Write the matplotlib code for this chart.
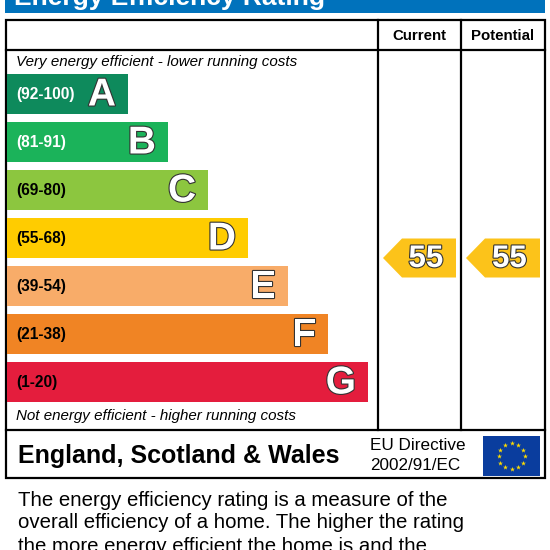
import numpy as np
import matplotlib
matplotlib.use("Agg")
import matplotlib.pyplot as plt
from matplotlib.patches import Rectangle, Polygon
import matplotlib.patheffects as pe

# ---- data ----
bands = ['A', 'B', 'C', 'D', 'E', 'F', 'G']
range_labels = ['(92-100)', '(81-91)', '(69-80)', '(55-68)', '(39-54)', '(21-38)', '(1-20)']
range_lo = [92, 81, 69, 55, 39, 21, 1]
range_hi = [100, 91, 80, 68, 54, 38, 20]
band_colors = ['#0e8a5c', '#1bb35a', '#8cc63f', '#ffcc00', '#f8ac69', '#f08424', '#e41d3d']
label_colors = ['white', 'white', 'black', 'black', 'black', 'black', 'black']
columns = ['Current', 'Potential']
ratings = [55, 55]
title = 'Energy Efficiency Rating'
top_note = 'Very energy efficient - lower running costs'
bottom_note = 'Not energy efficient - higher running costs'
region = 'England, Scotland & Wales'
directive = ['EU Directive', '2002/91/EC']
paragraph = ['The energy efficiency rating is a measure of the',
             'overall efficiency of a home. The higher the rating',
             'the more energy efficient the home is and the']

FONT = 'Liberation Sans'
plt.rcParams['font.family'] = [FONT, 'DejaVu Sans']

fig = plt.figure(figsize=(5.5, 5.5), dpi=100)
ax = fig.add_axes([0, 0, 1, 1])
ax.set_xlim(0, 550)
ax.set_ylim(550, 0)
ax.axis('off')

# title bar
ax.add_patch(Rectangle((5, -5), 540, 18, facecolor='#0072bc', edgecolor='none'))
ax.text(14, 5, title, color='white', fontsize=19, fontweight='bold', va='baseline', ha='left')

# outer box and grid lines
lw = 1.6
ax.add_patch(Rectangle((6, 20), 539, 458, facecolor='none', edgecolor='black', lw=lw))
ax.plot([6, 545], [50, 50], color='black', lw=lw)
ax.plot([6, 545], [430, 430], color='black', lw=lw)
col_x = [378, 461, 545]
for x in col_x[:2]:
    ax.plot([x, x], [20, 430], color='black', lw=lw)
for i, c in enumerate(columns):
    ax.text((col_x[i] + col_x[i + 1]) / 2, 36, c, fontsize=10.8, fontweight='bold',
            ha='center', va='center')

ax.text(16, 62, top_note, fontsize=10.9, style='italic', ha='left', va='center')
ax.text(16, 416, bottom_note, fontsize=10.9, style='italic', ha='left', va='center')

# bands
bar_h = 40
tops = 74 + 48 * np.arange(len(bands))
rights = 128 + 40 * np.arange(len(bands))
ax.barh(tops + bar_h / 2, rights - 7, left=7, height=bar_h, color=band_colors, edgecolor='none')
outline = [pe.withStroke(linewidth=1.6, foreground='#333333')]
for i, b in enumerate(bands):
    yc = tops[i] + bar_h / 2
    ax.text(16, yc + 1, range_labels[i], color=label_colors[i], fontsize=11.2,
            fontweight='bold', ha='left', va='center')
    ax.text(rights[i] - 12, yc + 1.5, b, color='white', fontsize=28, fontweight='bold',
            ha='right', va='center', path_effects=outline)

# rating -> y mapping using band boundaries
bounds_val = []
bounds_y = []
for i in range(len(bands)):
    bounds_val += [range_hi[i], range_lo[i]]
    bounds_y += [tops[i], tops[i] + bar_h]
order = np.argsort(bounds_val)
bv = np.array(bounds_val)[order]
by = np.array(bounds_y)[order]

arrow_color = '#fcc31a'
for i, r in enumerate(ratings):
    yc = float(np.interp(r, bv, by))
    x0 = col_x[i] + 5
    x1 = col_x[i + 1] - 5
    h = 19.5
    poly = Polygon([(x0, yc), (x0 + 19, yc - h), (x1, yc - h), (x1, yc + h), (x0 + 19, yc + h)],
                   closed=True, facecolor=arrow_color, edgecolor='none')
    ax.add_patch(poly)
    ax.text((x0 + 19 + x1) / 2 - 3, yc + 1, str(r), color='white', fontsize=22.5, fontweight='bold',
            ha='center', va='center', path_effects=outline)

# footer
ax.text(18, 456, region, fontsize=18, fontweight='bold', ha='left', va='center')
ax.text(370, 445, directive[0], fontsize=12.3, ha='left', va='center')
ax.text(370, 466, directive[1], fontsize=12.3, ha='left', va='center')

# EU flag
fx0, fy0, fw, fh = 483, 436, 57, 40
ax.add_patch(Rectangle((fx0, fy0), fw, fh, facecolor='#0a3d9e', edgecolor='none'))
ang = np.linspace(0, 2 * np.pi, 12, endpoint=False)
ax.scatter(fx0 + fw / 2 + 13 * np.cos(ang), fy0 + fh / 2 + 13 * np.sin(ang),
           marker='*', s=14, color='#ffdd00', linewidths=0)

# paragraph
for k, line in enumerate(paragraph):
    ax.text(18, 500 + 23 * k, line, fontsize=14.7, ha='left', va='center')

fig.savefig('out.png', dpi=100)
